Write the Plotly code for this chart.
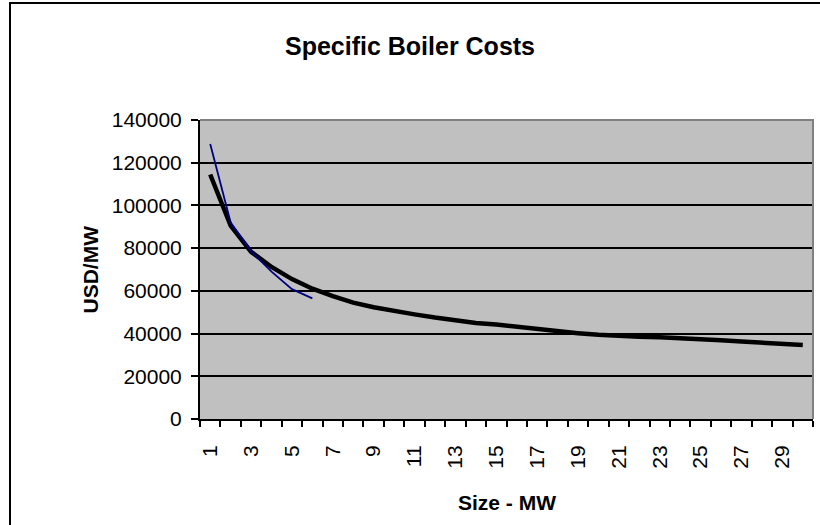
import plotly.graph_objects as go

# Boiler size categories (MW)
sizes = [1, 2, 3, 4, 5, 6, 7, 8, 9, 10,
         11, 12, 13, 14, 15, 16, 17, 18, 19, 20,
         21, 22, 23, 24, 25, 26, 27, 28, 29, 30]

# Specific cost per MW for each size (USD/MW)
cost_usd_per_mw = [114500, 90500, 78300, 71200, 65500, 61000, 57500, 54500, 52300, 50500,
                   49000, 47500, 46200, 45000, 44200, 43100, 41900, 41100, 40200, 39400,
                   38800, 38500, 38300, 38000, 37300, 36900, 36300, 35800, 35300, 34600]

# Fitted curve over the small-boiler range (sizes 1-6)
fit_sizes = [1, 2, 3, 4, 5, 6]
fit_cost = [128800, 92000, 78500, 69000, 60800, 56500]

# Axis tick labels
y_ticks = [0, 20000, 40000, 60000, 80000, 100000, 120000, 140000]
x_label_sizes = [1, 3, 5, 7, 9, 11, 13, 15, 17, 19, 21, 23, 25, 27, 29]

FONT = "Liberation Sans, Arial, sans-serif"
W, H = 820, 525
L, R, T, B = 200, 7, 120, 106
PW, PH = W - L - R, H - T - B


def px_x(px):
    """Pixel column -> paper x."""
    return (px - L) / PW


def px_y(py):
    """Pixel row -> paper y."""
    return (H - B - py) / PH


fig = go.Figure()

fig.add_trace(go.Scatter(
    x=sizes, y=cost_usd_per_mw, mode="lines",
    line=dict(color="#000000", width=4.5),
    showlegend=False, hoverinfo="skip",
))
fig.add_trace(go.Scatter(
    x=fit_sizes, y=fit_cost, mode="lines",
    line=dict(color="#000080", width=1.8),
    showlegend=False, hoverinfo="skip",
))

fig.update_layout(
    width=W, height=H,
    margin=dict(l=L, r=R, t=T, b=B),
    paper_bgcolor="#FFFFFF",
    plot_bgcolor="#C0C0C0",
    font=dict(family=FONT, color="#000000", size=21),
    title=dict(
        text="<b>Specific Boiler Costs</b>",
        x=0.5, xref="container", xanchor="center",
        y=1 - 46 / H, yref="container", yanchor="middle",
        font=dict(family=FONT, size=25, color="#000000"),
    ),
    showlegend=False,
)

fig.update_xaxes(
    range=[0.5, 30.5],
    tickmode="array",
    tickvals=x_label_sizes,
    ticktext=[str(v) for v in x_label_sizes],
    tickangle=-90,
    ticks="outside", ticklen=6, tickcolor="rgba(0,0,0,0)",
    ticklabelstandoff=10,
    tickfont=dict(family=FONT, size=21),
    showgrid=False, zeroline=False,
    showline=True, linecolor="#000000", linewidth=2,
    minor=dict(tickmode="linear", tick0=0.5, dtick=1,
               ticks="outside", ticklen=6, tickwidth=1.5,
               tickcolor="#000000", showgrid=False),
)

fig.update_yaxes(
    range=[0, 140000],
    tickmode="array",
    tickvals=y_ticks,
    ticktext=[str(v) for v in y_ticks],
    ticks="outside", ticklen=7, tickwidth=1.5, tickcolor="#000000",
    ticklabelstandoff=5,
    tickfont=dict(family=FONT, size=21),
    showgrid=True, gridcolor="#000000", gridwidth=1.5,
    zeroline=False,
    showline=True, linecolor="#000000", linewidth=2,
)

# axis titles
fig.add_annotation(text="<b>Size - MW</b>", xref="paper", yref="paper",
                   x=0.5, y=px_y(502), xanchor="center", yanchor="middle",
                   showarrow=False, font=dict(family=FONT, size=21))
fig.add_annotation(text="<b>USD/MW</b>", xref="paper", yref="paper",
                   x=px_x(90), y=0.5, xanchor="center", yanchor="middle",
                   textangle=-90, showarrow=False, font=dict(family=FONT, size=21))

# grey plot-area edge on top and right
fig.add_shape(type="path", xref="paper", yref="paper",
              path="M 0,1 L 1,1 L 1,0",
              line=dict(color="#808080", width=2), layer="above")

# chart-area frame
fig.add_shape(type="rect", xref="paper", yref="paper",
              x0=px_x(10), x1=px_x(840), y0=px_y(545), y1=px_y(3),
              line=dict(color="#000000", width=2), fillcolor="rgba(0,0,0,0)",
              layer="below")

fig.write_html("out.html")
